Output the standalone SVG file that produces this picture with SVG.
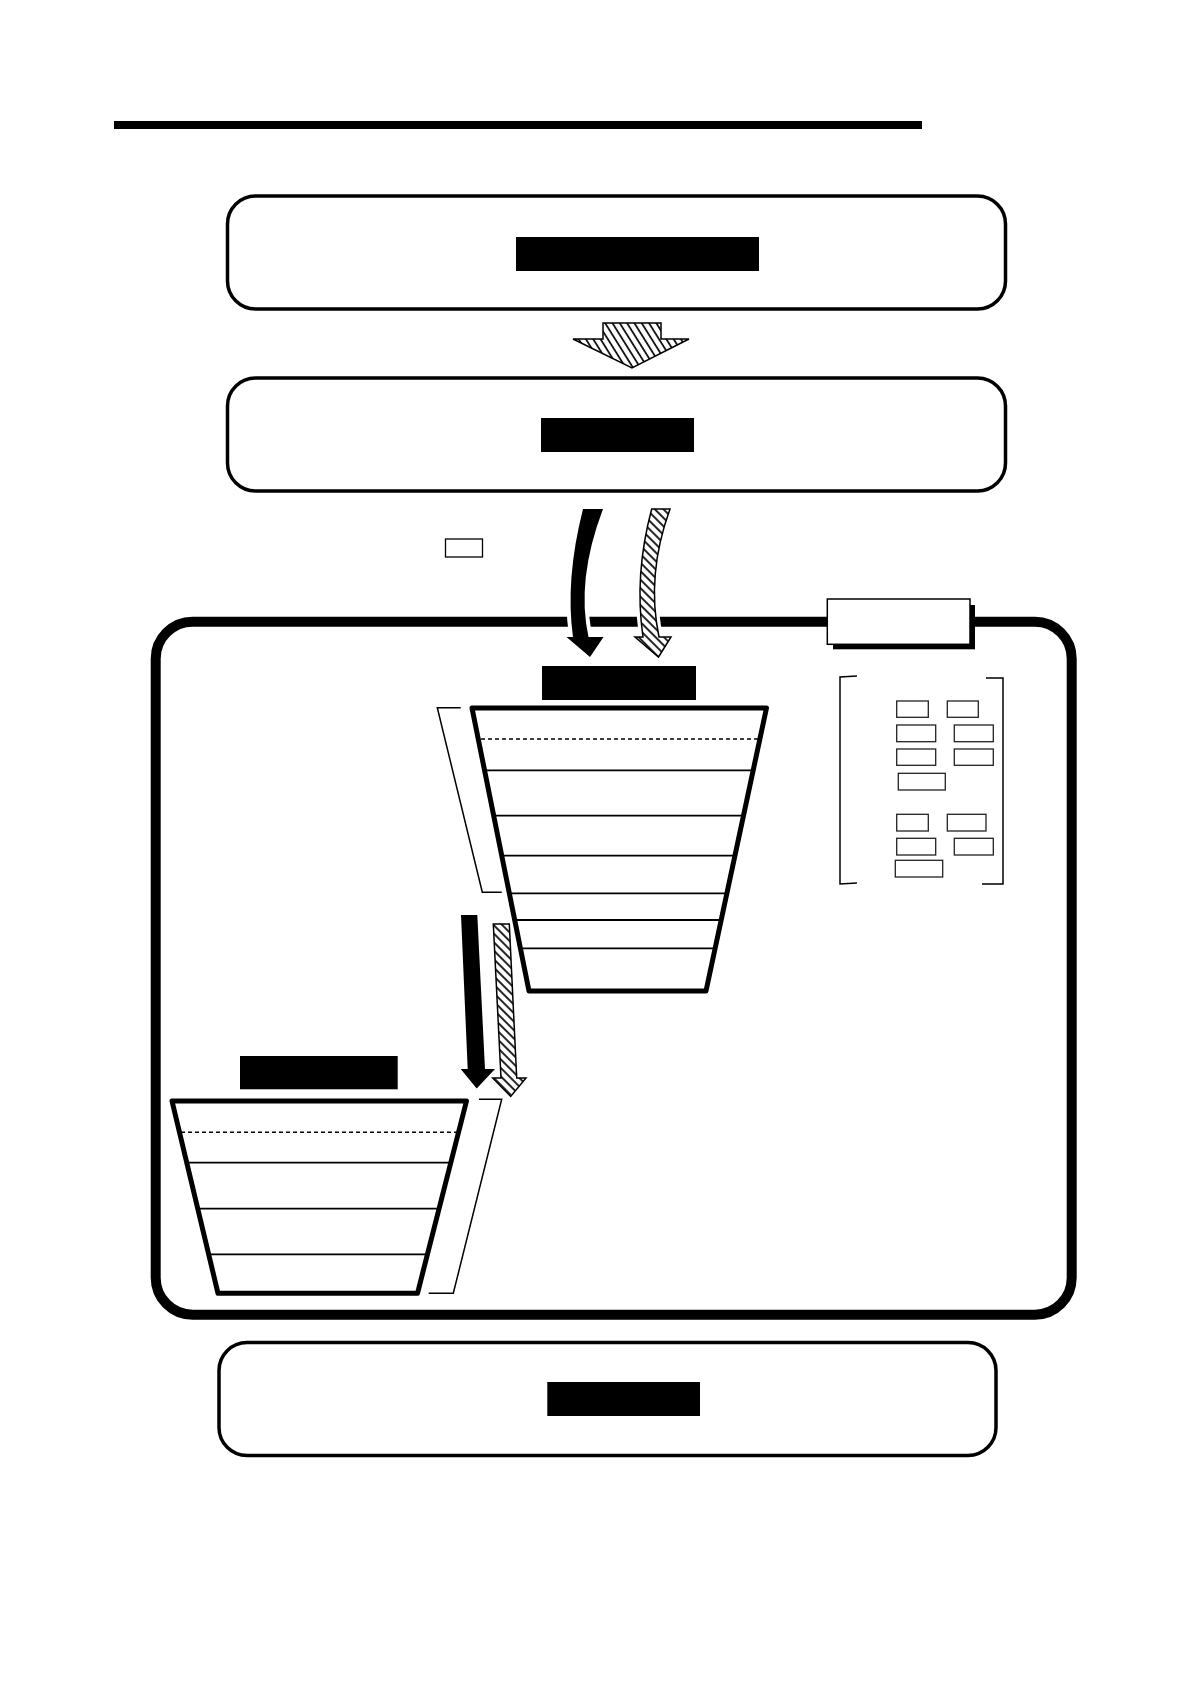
<svg xmlns="http://www.w3.org/2000/svg" width="1190" height="1684" viewBox="0 0 1190 1684">
  <defs>
    <pattern id="hatchSteep" patternUnits="userSpaceOnUse" width="6.2" height="6.2" patternTransform="rotate(-32)">
      <rect width="6.2" height="6.2" fill="#fff"/>
      <line x1="1" y1="0" x2="1" y2="6.2" stroke="#000" stroke-width="1.7"/>
    </pattern>
    <pattern id="hatch45" patternUnits="userSpaceOnUse" width="6" height="6" patternTransform="rotate(-45)">
      <rect width="6" height="6" fill="#fff"/>
      <line x1="1" y1="0" x2="1" y2="6" stroke="#000" stroke-width="1.7"/>
    </pattern>
    <clipPath id="clipT1">
      <polygon points="472,708 766.5,708 706,991 529,991"/>
    </clipPath>
    <clipPath id="clipT2">
      <polygon points="172,1101 466.5,1101 417.5,1293.3 218,1293.3"/>
    </clipPath>
  </defs>
  <style>
    .box { fill: #fff; stroke: #000; stroke-width: 3.5; }
    .blk { fill: #000; stroke: none; }
    .frame { fill: #fff; stroke: #000; stroke-width: 10; }
    .trap { fill: none; stroke: #000; stroke-width: 5; stroke-linejoin: round; }
    .row { stroke: #000; stroke-width: 1.8; }
    .dash { stroke: #000; stroke-width: 1.6; stroke-dasharray: 4 3; }
    .thin { fill: none; stroke: #000; stroke-width: 1.5; }
    .small { fill: #fff; stroke: #222; stroke-width: 1.3; }
    .halo { fill: #fff; stroke: #fff; stroke-width: 8; stroke-linejoin: round; }
    .hatch { stroke: #000; stroke-width: 1.5; stroke-linejoin: miter; }
  </style>
  <rect width="1190" height="1684" fill="#fff"/>

  <g id="title-bar">
    <rect class="blk" x="114" y="121" width="808" height="8"/>
  </g>

  <g id="box1">
    <rect class="box" x="227.5" y="196" width="778" height="113" rx="28" ry="28"/>
    <rect class="blk" x="516" y="237" width="243" height="34"/>
  </g>

  <g id="box2">
    <rect class="box" x="227.5" y="378" width="778" height="113" rx="28" ry="28"/>
    <rect class="blk" x="541" y="418" width="153" height="34"/>
  </g>

  <g id="frame">
    <rect class="frame" x="155.7" y="621.7" width="916" height="693" rx="37" ry="37"/>
  </g>

  <g id="frame-label">
    <rect class="blk" x="833" y="605" width="142" height="44.3"/>
    <rect x="827.3" y="599" width="142.7" height="45.3" fill="#fff" stroke="#000" stroke-width="1.5"/>
  </g>

  <g id="small-box">
    <rect x="445.5" y="539" width="37" height="18" fill="#fff" stroke="#000" stroke-width="1.3"/>
  </g>

  <g id="legend-panel">
    <polyline class="thin" points="857,676 840,677 840,884 857,883"/>
    <polyline class="thin" points="986,678 1003,678 1003,884 982,884"/>
    <rect class="small" x="896.7" y="701" width="31.6" height="16.3"/>
    <rect class="small" x="947.3" y="701" width="31" height="16.3"/>
    <rect class="small" x="896.7" y="725" width="39" height="16.7"/>
    <rect class="small" x="954.3" y="725" width="39" height="16.7"/>
    <rect class="small" x="896.7" y="749" width="39" height="16.3"/>
    <rect class="small" x="954.3" y="749" width="39" height="16.3"/>
    <rect class="small" x="898.3" y="773.3" width="47" height="16.7"/>
    <rect class="small" x="896.7" y="814.3" width="31.6" height="16.7"/>
    <rect class="small" x="947.3" y="814.3" width="38.7" height="16.7"/>
    <rect class="small" x="896.7" y="838.3" width="39" height="16.7"/>
    <rect class="small" x="954.3" y="838.3" width="39" height="16.7"/>
    <rect class="small" x="895.3" y="860.3" width="47.4" height="16.7"/>
  </g>

  <g id="stack-upper">
    <rect class="blk" x="542" y="666" width="154" height="34"/>
    <g clip-path="url(#clipT1)">
      <line class="dash" x1="460" y1="739" x2="780" y2="739"/>
      <line class="row" x1="460" y1="770.3" x2="780" y2="770.3"/>
      <line class="row" x1="460" y1="815.7" x2="780" y2="815.7"/>
      <line class="row" x1="460" y1="855.7" x2="780" y2="855.7"/>
      <line class="row" x1="460" y1="893.3" x2="780" y2="893.3"/>
      <line class="row" x1="460" y1="920" x2="780" y2="920"/>
      <line class="row" x1="460" y1="948.3" x2="780" y2="948.3"/>
    </g>
    <polygon class="trap" points="472,708 766.5,708 706,991 529,991"/>
    <polyline class="thin" points="460.7,707.7 437.3,707.7 482.3,892.3 501.7,892.3"/>
  </g>

  <g id="stack-lower">
    <rect class="blk" x="240" y="1056" width="157.7" height="33.3"/>
    <g clip-path="url(#clipT2)">
      <line class="dash" x1="160" y1="1132.3" x2="480" y2="1132.3"/>
      <line class="row" x1="160" y1="1162.7" x2="480" y2="1162.7"/>
      <line class="row" x1="160" y1="1208.7" x2="480" y2="1208.7"/>
      <line class="row" x1="160" y1="1254.3" x2="480" y2="1254.3"/>
    </g>
    <polygon class="trap" points="172,1101 466.5,1101 417.5,1293.3 218,1293.3"/>
    <polyline class="thin" points="479,1099.3 501.7,1099.3 453.3,1293.3 428.7,1293.3"/>
  </g>

  <g id="box4">
    <rect class="box" x="219" y="1342.5" width="777" height="113" rx="28" ry="28"/>
    <rect class="blk" x="547.3" y="1382" width="152.7" height="34"/>
  </g>

  <g id="connectors">
    <polygon class="hatch" fill="url(#hatchSteep)" points="603,323 661,323 661,339 689,339 632,368 573,339 603,339"/>

    <path class="halo" d="M583,509 Q565,580 573,637 L566.5,637 L590,657 L603.5,637 L588.5,637 Q576,580 603,509 Z"/>
    <path fill="#000" d="M583,509 Q565,580 573,637 L566.5,637 L590,657 L603.5,637 L588.5,637 Q576,580 603,509 Z"/>

    <path class="halo" d="M651.7,509 Q634,575 643,637 L635,637 L658.5,657 L671,637 L659,637 Q646,575 670,509 Z"/>
    <path class="hatch" fill="url(#hatch45)" d="M651.7,509 Q634,575 643,637 L635,637 L658.5,657 L671,637 L659,637 Q646,575 670,509 Z"/>

    <path fill="#000" d="M461,915 L477.3,915 L485,1069 L495,1069 L476.7,1088.5 L460.7,1069 L467.7,1069 Z"/>
    <path class="hatch" fill="url(#hatch45)" d="M493.3,924 L509.3,924 L516.7,1078 L526,1078 L510.7,1096.5 L492.7,1078 L501,1078 Z"/>
  </g>
</svg>
